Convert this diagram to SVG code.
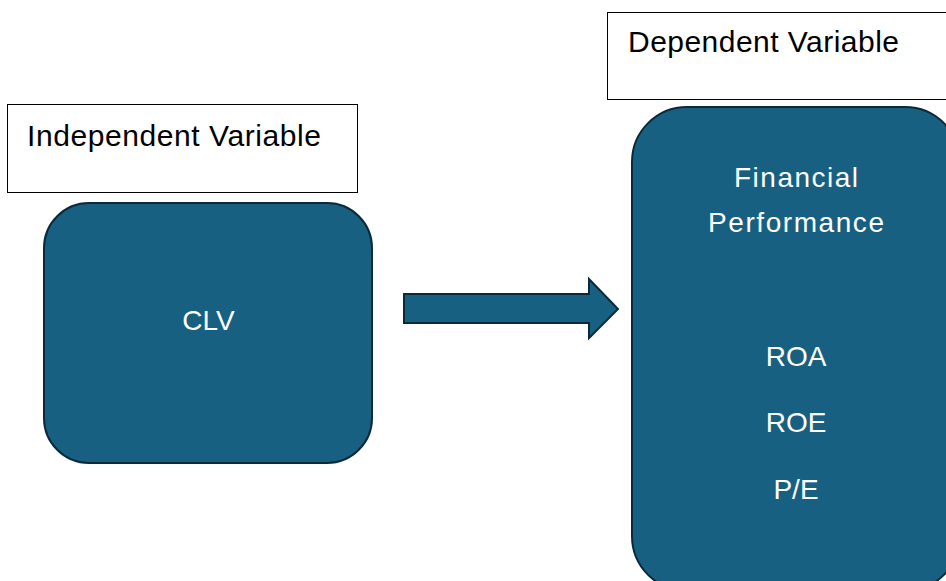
<svg xmlns="http://www.w3.org/2000/svg" width="946" height="581" viewBox="0 0 946 581">
<style>
.lbl{fill:#fff;stroke:#000;stroke-width:1}
.node{fill:#186082;stroke:#0a2a3a;stroke-width:2}
.t{font-family:"Liberation Sans",Arial,sans-serif;font-size:30px}
.dark{fill:#000}
.light{fill:#fff;text-anchor:middle;font-size:28px}
</style>
<rect width="946" height="581" fill="#fff"/>
<g id="independent-label">
<rect class="lbl" x="7.5" y="104.5" width="350" height="88"/>
<text class="t dark" x="27" y="146" textLength="294">Independent Variable</text>
</g>
<g id="dependent-label">
<rect class="lbl" x="607.5" y="12.5" width="350" height="87"/>
<text class="t dark" x="628" y="52" textLength="271">Dependent Variable</text>
</g>
<g id="clv">
<rect class="node" x="44" y="203" width="328" height="260" rx="45" ry="45"/>
<text class="t light" x="208.5" y="330">CLV</text>
</g>
<g id="financial-performance">
<rect class="node" x="632" y="107" width="328" height="484" rx="55" ry="55"/>
<text class="t light" x="796" y="187" textLength="124">Financial</text>
<text class="t light" x="796" y="232" textLength="176">Performance</text>
<text class="t light" x="796" y="366">ROA</text>
<text class="t light" x="796" y="432">ROE</text>
<text class="t light" x="796" y="499">P/E</text>
</g>
<g id="connectors">
<path class="node" d="M404,294 L589,294 L589,279 L618,309 L589,338 L589,323 L404,323 Z"/>
</g>
</svg>
